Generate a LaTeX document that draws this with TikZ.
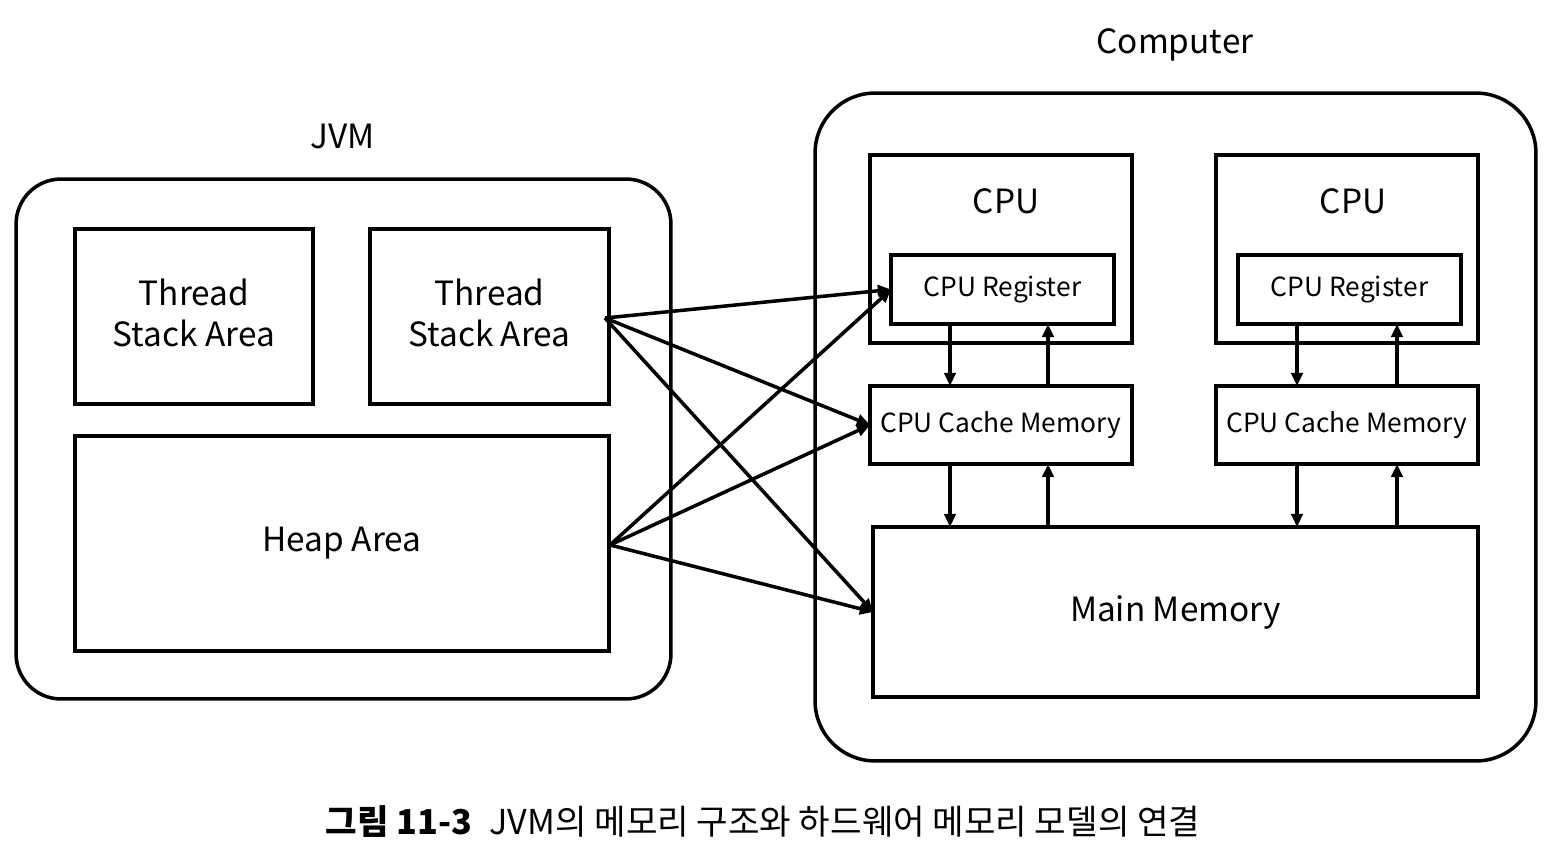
\documentclass[tikz,border=0pt]{standalone}
\usepackage{fontspec}
\setmainfont{Noto Sans CJK KR}
\usetikzlibrary{arrows.meta}
\begin{document}
\begin{tikzpicture}[x=0.02cm,y=-0.02cm,
  every node/.style={inner sep=0pt,outer sep=0pt},
  box/.style={draw,line width=2pt,align=center},
  outer/.style={draw,line width=2pt},
  big/.style={font=\fontsize{19}{23}\selectfont},
  small/.style={font=\fontsize{15}{18}\selectfont},
  arr/.style={line width=2pt,-{Triangle[length=7.5pt,width=6.5pt]}},
]
\useasboundingbox (0,0) rectangle (1564,862);
% outer containers
\node[outer,rounded corners=0.9cm,minimum width=13.1cm,minimum height=10.4cm] (jvm) at (343.5,439) {};
\node[big] (jvmlabel) at (343,136) {JVM};
\node[outer,rounded corners=1.2cm,minimum width=14.42cm,minimum height=13.36cm] (comp) at (1175.5,427) {};
\node[big] (complabel) at (1175,45) {Computer};
% JVM parts
\node[box,minimum width=4.76cm,minimum height=3.5cm] (ts1) at (194,316.5) {};
\node[big,align=center] (ts1text) at (194,313) {Thread\\Stack Area};
\node[box,minimum width=4.78cm,minimum height=3.5cm] (ts2) at (489.5,316.5) {};
\node[big,align=center] (ts2text) at (489.5,313) {Thread\\Stack Area};
\node[box,big,minimum width=10.68cm,minimum height=4.3cm] (heap) at (342,543.5) {Heap Area};
% CPUs
\node[box,minimum width=5.24cm,minimum height=3.76cm] (cpu1) at (1001,249) {};
\node[big] (cpu1label) at (1006,201) {CPU};
\node[box,small,minimum width=4.46cm,minimum height=1.38cm] (reg1) at (1002.5,289.5) {CPU Register};
\node[box,minimum width=5.24cm,minimum height=3.76cm] (cpu2) at (1347,249) {};
\node[big] (cpu2label) at (1353,201) {CPU};
\node[box,small,minimum width=4.46cm,minimum height=1.38cm] (reg2) at (1349.5,289.5) {CPU Register};
\node[box,small,minimum width=5.24cm,minimum height=1.56cm] (cache1) at (1001,425) {CPU Cache Memory};
\node[box,small,minimum width=5.24cm,minimum height=1.56cm] (cache2) at (1347,425) {CPU Cache Memory};
\node[box,big,minimum width=12.1cm,minimum height=3.4cm] (main) at (1175.5,612) {Main Memory};
% vertical link columns
\coordinate (c1) at (950,0);
\coordinate (c2) at (1048,0);
\coordinate (c3) at (1297,0);
\coordinate (c4) at (1397,0);
\draw[arr] (c1 |- reg1.south) -- (c1 |- cache1.north);
\draw[arr] (c2 |- cache1.north) -- (c2 |- reg1.south);
\draw[arr] (c1 |- cache1.south) -- (c1 |- main.north);
\draw[arr] (c2 |- main.north) -- (c2 |- cache1.south);
\draw[arr] (c3 |- reg2.south) -- (c3 |- cache2.north);
\draw[arr] (c4 |- cache2.north) -- (c4 |- reg2.south);
\draw[arr] (c3 |- cache2.south) -- (c3 |- main.north);
\draw[arr] (c4 |- main.north) -- (c4 |- cache2.south);
% JVM to hardware
\coordinate (tsp) at (605,318);
\coordinate (hp) at (610,545);
\draw[arr] (tsp) -- (reg1.west);
\draw[arr] (tsp) -- (cache1.west);
\draw[arr] (tsp) -- (main.west);
\draw[arr] (hp) -- (reg1.west);
\draw[arr] (hp) -- (cache1.west);
\draw[arr] (hp) -- (main.west);
% caption
\node[font=\fontsize{19.5}{23}\selectfont] (cap) at (763,822) {\textbf{그림 11-3}\hspace{0.5em}JVM의 메모리 구조와 하드웨어 메모리 모델의 연결};
\end{tikzpicture}
\end{document}
